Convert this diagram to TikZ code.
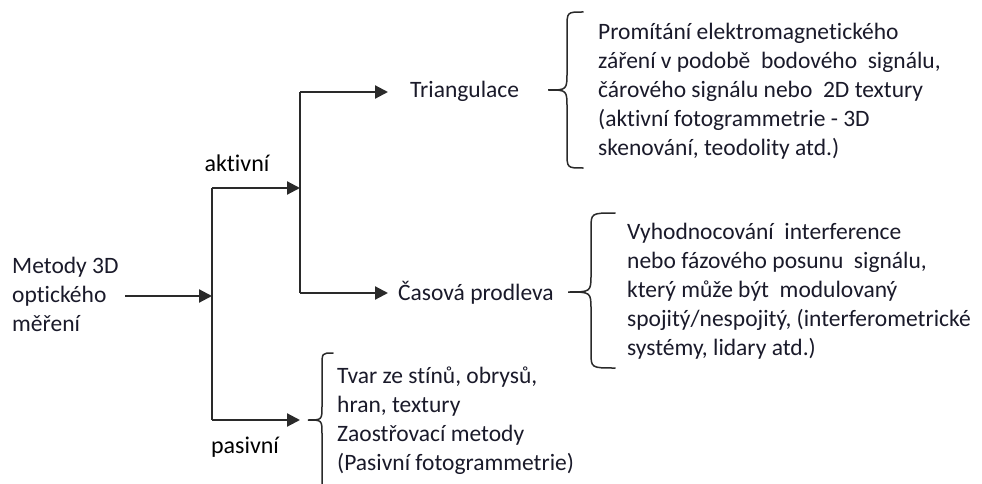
\documentclass[tikz,border=0pt]{standalone}
\usepackage{fontspec}
\setmainfont{Carlito}[Ligatures=NoCommon]
\usetikzlibrary{arrows.meta}
\definecolor{txtc}{HTML}{1A1A2A}
\definecolor{linec}{HTML}{2A2A2A}
\begin{document}
\begin{tikzpicture}[x=1pt,y=-1pt,
  txt/.style={inner sep=0pt, align=left, text=txtc, font=\fontsize{23.5}{29}\selectfont},
  lbl/.style={inner sep=0pt, text=black, font=\fontsize{24}{29}\selectfont},
  conn/.style={draw=linec, line width=2.2pt},
  arr/.style={conn, -{Triangle[length=13pt,width=13pt]}},
  brc/.style={draw=linec, line width=1.5pt, line cap=round}]
\useasboundingbox[fill=white] (0,0) rectangle (982,484);

% nodes
\node[txt, anchor=west] (metody) at (12,294) {Metody 3D\\optického\\měření};
\node[lbl] (aktivni) at (237,163) {aktivní};
\node[lbl] (pasivni) at (245,447) {pasivní};
\node[txt, anchor=west] (triang) at (410,91) {Triangulace};
\node[txt, anchor=west] (casova) at (398,293) {Časová prodleva};
\node[txt, anchor=west] (tdesc) at (598,91) {Promítání elektromagnetického\\zá\-ření v podobě\ \ bodového\ \ signálu,\\čárového signálu nebo\ \ 2D textury\\(aktivní fotogrammetrie - 3D\\skenování, teodolity atd.)};
\node[txt, anchor=west] (cdesc) at (627,291) {Vyhodnocování\ \ interference\\nebo fázového posunu\ \ signálu,\\který může být\ \ modulovaný\\spojitý/nespojitý, (interferometrické\\systémy, lidary atd.)};
\node[txt, anchor=west] (pdesc) at (337,421) {Tvar ze stínů, obrysů,\\hran, textury\\Zaostřovací metody\\(Pasivní fotogrammetrie)};

% junctions
\coordinate (j1) at (212,296);
\coordinate (jt) at (212,188);
\coordinate (jb) at (212,420);
\coordinate (k1) at (300,188);
\coordinate (kt) at (300,92);
\coordinate (kb) at (300,293);
\coordinate (tipT) at (388,92);
\coordinate (tipC) at (388,293);
\coordinate (tipP) at (300,420);
\coordinate (mstart) at (125,296);

% connectors
\draw[arr] (mstart) -- (j1);
\draw[conn] (jt) -- (jb);
\draw[arr] (jt) -- (k1);
\draw[conn] (kt) -- (kb);
\draw[arr] (kt) -- (tipT);
\draw[arr] (kb) -- (tipC);
\draw[arr] (jb) -- (tipP);

% braces
\draw[brc] (583,12) .. controls (567,12) .. (567,28) -- (567,72)
  .. controls (567,90) .. (548,90) .. controls (567,90) .. (567,108)
  -- (567,152) .. controls (567,168) .. (583,168);
\draw[brc] (615,213) .. controls (591,213) .. (591,229) -- (591,274)
  .. controls (591,292) .. (568,292) .. controls (591,292) .. (591,310)
  -- (591,352) .. controls (591,368) .. (615,368);
\draw[brc] (333,353) .. controls (322,353) .. (322,366) -- (322,406)
  .. controls (322,420) .. (308,420) .. controls (322,420) .. (322,434)
  -- (322,490);
\end{tikzpicture}
\end{document}
